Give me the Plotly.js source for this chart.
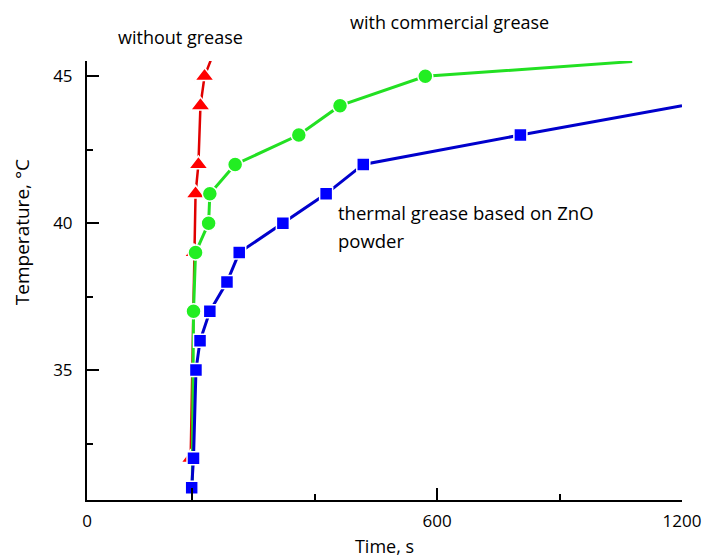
<!DOCTYPE html>
<html>
<head>
<meta charset="utf-8">
<script src="https://cdn.plot.ly/plotly-3.0.1.min.js"></script>
<style>html,body{margin:0;padding:0;background:#fff}</style>
</head>
<body>
<div id="chart" style="width:706px;height:558px"></div>
<script>
// ---- data ----
const redTime = [-4, 4, 8, 15, 20, 30];
const redTemp = [32, 39, 41, 42, 44, 45];
const redTailTime = [58];
const redTailTemp = [46];

const greenHeadTime = [0];
const greenHeadTemp = [31];
const greenTime = [3, 8, 40, 43, 105, 261, 362, 571];
const greenTemp = [37, 39, 40, 41, 42, 43, 44, 45];
const greenTailTime = [1078];
const greenTailTemp = [45.5];

const blueTime = [-1.5, 3, 9, 19, 43, 85, 115, 222, 328, 419, 804];
const blueTemp = [31, 32, 35, 36, 37, 38, 39, 40, 41, 42, 43];
const blueTailTime = [1200];
const blueTailTemp = [44];

const xTickVals = [-258, 0, 600, 1200];
const xTickText = ['0', '', '600', '1200'];
const xMinorVals = [300, 900];
const yTickVals = [35, 40, 45];
const yMinorVals = [32.5, 37.5, 42.5];

const FONT = '"Open Sans", Lato, sans-serif';

function lineTrace(x, y, color, w) {
  return {x: x, y: y, mode: 'lines', type: 'scatter', hoverinfo: 'skip',
          line: {color: color, width: w}, showlegend: false};
}
function markerTrace(x, y, color, symbol, size) {
  return {x: x, y: y, mode: 'markers', type: 'scatter', showlegend: false,
          marker: {color: color, symbol: symbol, size: size,
                   line: {color: '#ffffff', width: 1.5}}};
}

const traces = [
  lineTrace(redTime.concat(redTailTime), redTemp.concat(redTailTemp), '#e00000', 2.5),
  markerTrace(redTime, redTemp, '#ff0000', 'triangle-up', 17),
  lineTrace(greenHeadTime.concat(greenTime, greenTailTime), greenHeadTemp.concat(greenTemp, greenTailTemp), '#22e022', 3),
  markerTrace(greenTime, greenTemp, '#22ee22', 'circle', 15),
  lineTrace(blueTime.concat(blueTailTime), blueTemp.concat(blueTailTemp), '#0000cc', 3),
  markerTrace(blueTime, blueTemp, '#0000ff', 'square', 13)
];

const L = 87, R = 681.7, T = 60.7, B = 500;
function px(x) { return (x - L) / (R - L); }
function py(y) { return (B - y) / (B - T); }

const layout = {
  width: 706, height: 558,
  margin: {l: L, r: 706 - R, t: T, b: 558 - B, pad: 0},
  paper_bgcolor: '#ffffff', plot_bgcolor: '#ffffff',
  font: {family: FONT, size: 17, color: '#000000'},
  showlegend: false,
  xaxis: {
    range: [-258, 1200],
    showline: true, linecolor: '#000000', linewidth: 2,
    showgrid: false, zeroline: false,
    ticks: 'inside', ticklen: 12, tickwidth: 2, tickcolor: '#000000',
    tickmode: 'array', tickvals: xTickVals, ticktext: xTickText,
    ticklabelstandoff: 5,
    minor: {tickmode: 'array', tickvals: xMinorVals, ticks: 'inside', ticklen: 6, tickwidth: 2, tickcolor: '#000000', showgrid: false},
    tickfont: {family: FONT, size: 17},
    title: {text: 'Time, s', font: {family: FONT, size: 18}, standoff: 10}
  },
  yaxis: {
    range: [30.58, 45.52],
    showline: true, linecolor: '#000000', linewidth: 2,
    showgrid: false, zeroline: false,
    ticks: 'inside', ticklen: 12, tickwidth: 2, tickcolor: '#000000',
    tickmode: 'array', tickvals: yTickVals,
    ticklabelstandoff: 9,
    minor: {tickmode: 'array', tickvals: yMinorVals, ticks: 'inside', ticklen: 6, tickwidth: 2, tickcolor: '#000000', showgrid: false},
    tickfont: {family: FONT, size: 17}
  },
  annotations: [
    {xref: 'paper', yref: 'paper', x: px(22), y: py(232), text: 'Temperature, \u00B0C', textangle: -90, showarrow: false, xanchor: 'center', yanchor: 'middle', font: {family: FONT, size: 19}},
    {xref: 'paper', yref: 'paper', x: px(180), y: py(37), text: 'without grease', showarrow: false, xanchor: 'center', yanchor: 'middle', font: {family: FONT, size: 18}},
    {xref: 'paper', yref: 'paper', x: px(449), y: py(22), text: 'with commercial grease', showarrow: false, xanchor: 'center', yanchor: 'middle', font: {family: FONT, size: 18}},
    {xref: 'paper', yref: 'paper', x: px(336), y: py(212), text: 'thermal grease based on ZnO', showarrow: false, xanchor: 'left', yanchor: 'middle', font: {family: FONT, size: 18.5}},
    {xref: 'paper', yref: 'paper', x: px(336), y: py(240), text: 'powder', showarrow: false, xanchor: 'left', yanchor: 'middle', font: {family: FONT, size: 18.5}}
  ]
};

Plotly.newPlot('chart', traces, layout, {displayModeBar: false, staticPlot: true});
</script>
</body>
</html>
